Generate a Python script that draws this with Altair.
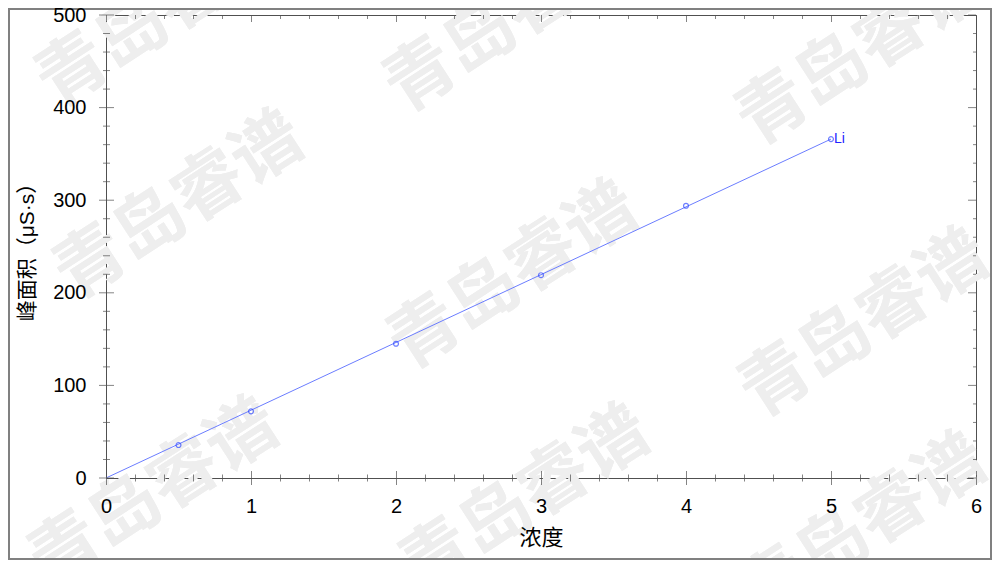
import altair as alt
import pandas as pd

# ---- data ----
conc = [0.5, 1, 2, 3, 4, 5]
area = [35.6, 72.0, 145.0, 219.0, 294.0, 366.0]
ion = ["", "", "", "", "", "Li"]
fit_x = [0, 5]
fit_y = [0, 366]

x_major = [0, 1, 2, 3, 4, 5, 6]
y_major = [0, 100, 200, 300, 400, 500]
x_minor = [round(i * 0.2, 1) for i in range(31) if i % 5 != 0]
y_minor = [i * 20 for i in range(26) if i % 5 != 0]

wm_text = "青岛睿谱"
wm_px = [56, 74, 49, 404, 408, 420, 756, 759, 757]
wm_py = [0, 192, 479, 5, 262, 486, 38, 310, 514]

# ---- tables ----
pts = pd.DataFrame({"x": conc, "y": area, "ion": ion})
fit = pd.DataFrame({"x": fit_x, "y": fit_y})

xs = alt.Scale(domain=[0, 6], nice=False, zero=False)
ys = alt.Scale(domain=[0, 500], nice=False, zero=False)
AX = "#505050"

x_axis = alt.Axis(
    title="浓度", values=x_major, format="d", ticks=False, tickSize=0, domain=False, grid=False,
    labelFont="Liberation Sans", labelFontSize=20, labelColor="black", labelPadding=18,
    labelFlush=False, labelOverlap=False, zindex=2,
    titleFont="Noto Sans CJK SC", titleFontSize=22, titleFontWeight="normal",
    titleColor="black", titlePadding=11)
y_axis = alt.Axis(
    title="峰面积（μS·s）", values=y_major, format="d", ticks=False, tickSize=0, domain=False, grid=False,
    labelFont="Liberation Sans", labelFontSize=20, labelColor="black", labelPadding=20,
    labelFlush=False, labelOverlap=False, zindex=2,
    titleFont="Liberation Sans, Noto Sans CJK SC", titleFontSize=21, titleFontWeight="normal",
    titleColor="black", titlePadding=15)


def X(f):
    return alt.X(f, scale=xs, axis=x_axis)


def Y(f):
    return alt.Y(f, scale=ys, axis=y_axis)


line = alt.Chart(fit).mark_line(color="#6b7dff", strokeWidth=1).encode(x=X("x:Q"), y=Y("y:Q"))

points = alt.Chart(pts).mark_point(
    shape="circle", filled=False, size=24, color="#3049ff", strokeWidth=1.2
).encode(x=X("x:Q"), y=Y("y:Q"))

label = alt.Chart(pts).mark_text(
    align="left", baseline="middle", dx=3, fontSize=14, font="Liberation Sans", color="#2323ff"
).encode(x=X("x:Q"), y=Y("y:Q"), text="ion:N")


def yticks(values, xpos, size, xoff):
    df = pd.DataFrame({"v": values, "c": [xpos] * len(values)})
    return alt.Chart(df).mark_tick(
        orient="horizontal", size=size, thickness=1, color=AX, xOffset=xoff
    ).encode(x=X("c:Q"), y=Y("v:Q"))


def xticks(values, ypos, size, yoff):
    df = pd.DataFrame({"v": values, "c": [ypos] * len(values)})
    return alt.Chart(df).mark_tick(
        orient="vertical", size=size, thickness=1, color=AX, yOffset=yoff, xOffset=0.5
    ).encode(x=X("v:Q"), y=Y("c:Q"))


ticks = [
    yticks(y_major, 0, 15, 0.5),
    yticks(y_minor, 0, 7, 0.5),
    xticks(x_major, 0, 14, 0),
    xticks(x_minor, 0, 7, 0),
    xticks(x_major, 500, 7, 3.5),
    xticks(x_minor, 500, 4, 2),
    yticks(y_major, 6, 8, -4),
    yticks(y_minor, 6, 3, -1.5),
]

# decorative watermark and outer picture frame (pixel placed)
marks = []
for px, py in zip(wm_px, wm_py):
    marks.append(alt.Chart(fit).mark_text(
        text=wm_text, angle=327, font="Noto Sans CJK SC", fontWeight="bold", fontSize=70,
        color="#eeeeee", align="center", baseline="middle"
    ).encode(x=alt.value(px), y=alt.value(py)))

outer = alt.Chart(fit).mark_rect(filled=False, stroke="#808080", strokeWidth=2).encode(
    x=alt.value(-97), x2=alt.value(885), y=alt.value(-6), y2=alt.value(544)
)

chart = alt.layer(*marks, outer, line, points, label, *ticks).properties(
    width=870, height=463,
    autosize=alt.AutoSizeParams(type="none"),
    padding={"left": 98, "top": 7, "right": 16, "bottom": 82},
    background="white",
).configure_view(stroke=AX, strokeWidth=1)

chart.save("out.html", embed_options={"renderer": "svg", "actions": False})
